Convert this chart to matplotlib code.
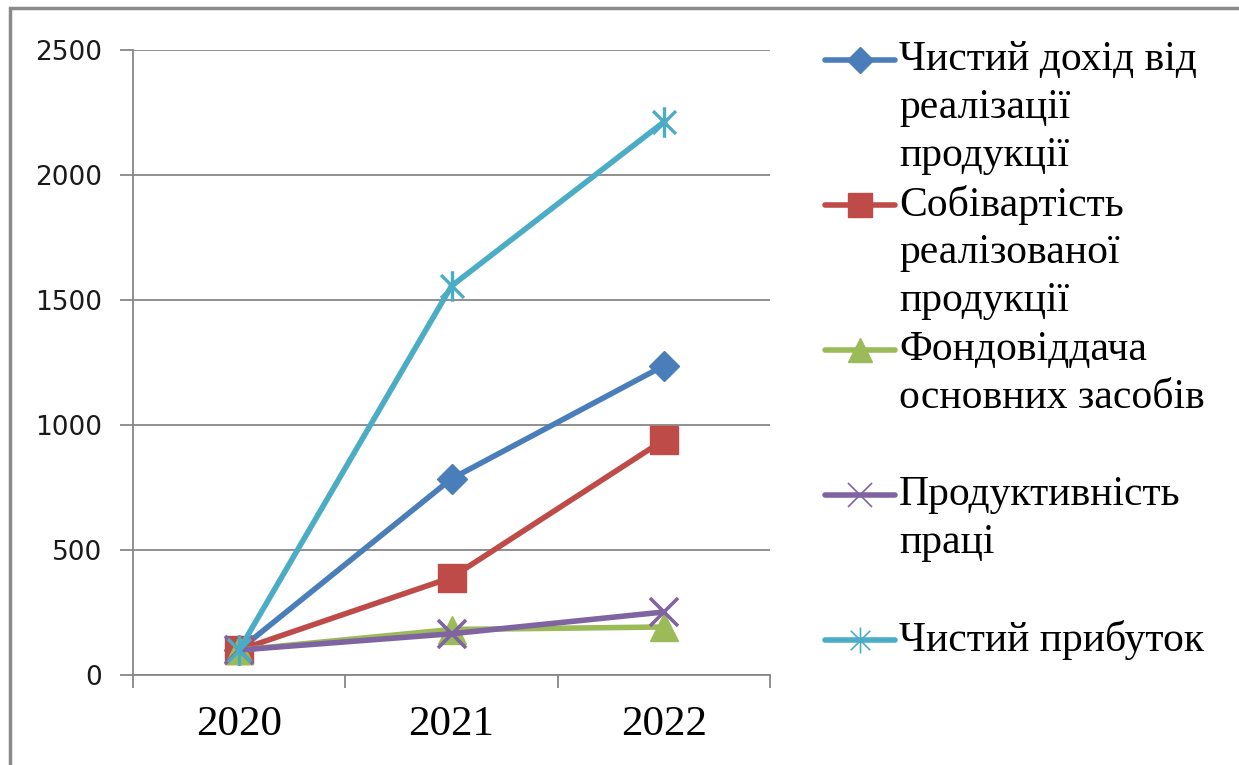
import numpy as np
import matplotlib
matplotlib.use('Agg')
import matplotlib.pyplot as plt
from matplotlib.lines import Line2D
from matplotlib.path import Path
from matplotlib.patches import Rectangle

# data
years = ['2020', '2021', '2022']
dohid = [100, 785, 1237]          # Чистий дохід від реалізації продукції
sobivartist = [100, 390, 940]     # Собівартість реалізованої продукції
fondovid = [100, 182, 192]        # Фондовіддача основних засобів
produkt = [100, 165, 252]         # Продуктивність праці
prybutok = [100, 1556, 2212]      # Чистий прибуток

labels = [['Чистий дохід від', 'реалізації', 'продукції'],
          ['Собівартість', 'реалізованої', 'продукції'],
          ['Фондовіддача', 'основних засобів'],
          ['Продуктивність', 'праці'],
          ['Чистий прибуток']]

# excel-like star: X plus vertical bar
star = Path([(0, -1), (0, 1), (-0.75, -0.75), (0.75, 0.75), (-0.75, 0.75), (0.75, -0.75)],
            [Path.MOVETO, Path.LINETO, Path.MOVETO, Path.LINETO, Path.MOVETO, Path.LINETO])

series = [
    (dohid, '#4A7EBB', 'D', 15, 1),
    (sobivartist, '#BE4B48', 's', 20, 1),
    (fondovid, '#9BBB59', '^', 20, 1),
    (produkt, '#8064A2', 'x', 20, 2.6),
    (prybutok, '#4BACC6', star, 22, 2.4),
]

W, H = 1239, 765
fig = plt.figure(figsize=(W / 100, H / 100), dpi=100)

def fx(x):
    return x / W

def fy(y):
    return 1 - y / H

ax = fig.add_axes([fx(133), fy(675), fx(770) - fx(133), fy(50) - fy(675)])

x = np.arange(len(years))
for vals, c, m, ms, mew in series:
    ax.plot(x, vals, color=c, lw=4, marker=m, ms=ms, mec=c, mfc=c, mew=mew,
            solid_joinstyle='round', clip_on=False, zorder=3)

ax.set_xlim(-0.5, 2.5)
ax.set_ylim(0, 2500)
ax.set_yticks(np.arange(0, 2501, 500))
ax.grid(axis='y', color='#878787', lw=1.3)
ax.set_axisbelow(True)
for s in ['top', 'right']:
    ax.spines[s].set_visible(False)
for s in ['left', 'bottom']:
    ax.spines[s].set_color('#878787')
    ax.spines[s].set_linewidth(1.3)

ax.set_xticks(x)
ax.set_xticklabels(years, family='Liberation Serif', fontsize=31)
ax.set_xticks([-0.5, 0.5, 1.5, 2.5], minor=True)
ax.tick_params(axis='x', which='major', length=0, pad=22)
ax.tick_params(axis='x', which='minor', length=9.5, width=1.3, color='#878787')
ax.tick_params(axis='y', length=9.5, width=1.3, color='#878787', pad=13, labelsize=19)
for t in ax.get_yticklabels():
    t.set_family('DejaVu Sans')
    t.set_color('#1a1a1a')

# legend drawn by hand, excel style (handle level with the first line)
y0, step, lstep = 60, 145, 48
for i, ((vals, c, m, ms, mew), lab) in enumerate(zip(series, labels)):
    yy = y0 + step * i
    ln = Line2D([fx(825), fx(860), fx(895)], [fy(yy)] * 3, transform=fig.transFigure,
                color=c, lw=4, marker=m, markevery=[1], ms=ms * 0.85, mec=c, mfc=c,
                mew=1 if mew == 1 else 1.2, solid_capstyle='round')
    fig.add_artist(ln)
    for j, line in enumerate(lab):
        fig.text(fx(899), fy(yy + lstep * j), line, family='Liberation Serif',
                 fontsize=30, va='center', ha='left', color='black')

# outer frame of the chart area
fig.add_artist(Rectangle((fx(10), fy(790)), fx(1260) - fx(10), fy(8) - fy(790),
                         transform=fig.transFigure, fill=False, ec='#8a8a8a', lw=2.5,
                         clip_on=False))

fig.savefig('out.png', dpi=100)
